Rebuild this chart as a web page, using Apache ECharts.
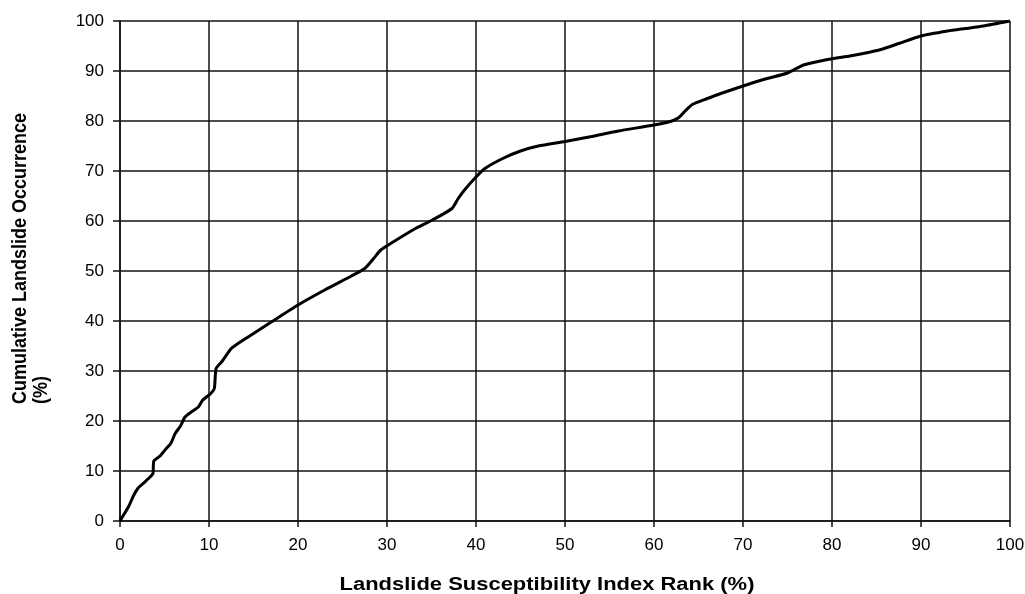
<!DOCTYPE html>
<html><head><meta charset="utf-8">
<script src="https://cdn.jsdelivr.net/npm/echarts@6/dist/echarts.min.js"></script>
<style>html,body{margin:0;padding:0;background:#fff}#c{width:1025px;height:594px}</style>
</head><body><div id="c"></div>
<script>
// Cumulative curve: [Landslide Susceptibility Index Rank (%), Cumulative Landslide Occurrence (%)]
const rankX = [0,0.5,1,1.5,2,2.6,3.2,3.7,3.8,4.5,5.2,5.7,6.2,6.8,7.3,8,8.8,9.3,10.2,10.6,10.8,11.5,12.5,13.5,15,17,20,23,26,27.5,28.5,29.3,30.5,33,35,37.3,38,38.8,40,41,43,45,47,50,53,56,60,62,62.8,63.5,64.3,66,67.5,70,72.5,75,76.8,79.5,82,83.5,85.5,87.5,90,93,95,97,100];
const occurrenceY = [0,1.5,3,5,6.5,7.5,8.5,9.5,12,13,14.5,15.5,17.5,19,20.8,21.8,22.8,24.2,25.5,26.5,30.5,32,34.5,35.8,37.5,39.8,43.2,46.2,49,50.5,52.5,54.2,55.6,58.3,60.1,62.5,64.5,66.4,68.8,70.5,72.5,74,75,75.9,76.9,78,79.2,80,80.7,82,83.3,84.5,85.5,87,88.4,89.6,91.2,92.3,93,93.5,94.3,95.5,97,98,98.5,99,100];
const xTitle = 'Landslide Susceptibility Index Rank (%)';
const yTitle = 'Cumulative Landslide Occurrence\n(%)';

const chart = echarts.init(document.getElementById('c'));
const font = '"Liberation Sans", Arial, sans-serif';
const lineCol = '#111';
chart.setOption({
  backgroundColor: '#fff',
  animation: false,
  grid: {left: 120, right: 15, top: 21, bottom: 73, containLabel: false, outerBoundsMode: 'none'},
  xAxis: {
    type: 'value', min: 0, max: 100, interval: 10,
    axisLine: {show: true, lineStyle: {color: lineCol, width: 1.5}},
    axisTick: {show: true, length: 6, lineStyle: {color: lineCol, width: 1.5}},
    axisLabel: {fontFamily: font, fontSize: 17, color: '#000', margin: 16},
    splitLine: {show: true, lineStyle: {color: lineCol, width: 1.5}}
  },
  yAxis: {
    type: 'value', min: 0, max: 100, interval: 10,
    axisLine: {show: true, lineStyle: {color: lineCol, width: 1.5}},
    axisTick: {show: true, length: 7, lineStyle: {color: lineCol, width: 1.5}},
    axisLabel: {fontFamily: font, fontSize: 17, color: '#000', margin: 16, padding: [0, 0, 6, 0]},
    splitLine: {show: true, lineStyle: {color: lineCol, width: 1.5}}
  },
  graphic: [{
    type: 'text', x: 9, y: 404, rotation: Math.PI / 2, scaleY: 1.15,
    style: {text: yTitle, font: 'bold 18px ' + font, fill: '#000', textAlign: 'left', textVerticalAlign: 'top', lineHeight: 19}
  }, {
    type: 'text', x: 547, y: 585, scaleX: 1.22,
    style: {text: xTitle, font: 'bold 18px ' + font, fill: '#000', textAlign: 'center', textVerticalAlign: 'middle'}
  }],
  series: [{
    type: 'line',
    data: rankX.map((x, i) => [x, occurrenceY[i]]),
    showSymbol: false, smooth: 0.2,
    lineStyle: {color: '#000', width: 3},
    z: 5
  }]
});
</script></body></html>
